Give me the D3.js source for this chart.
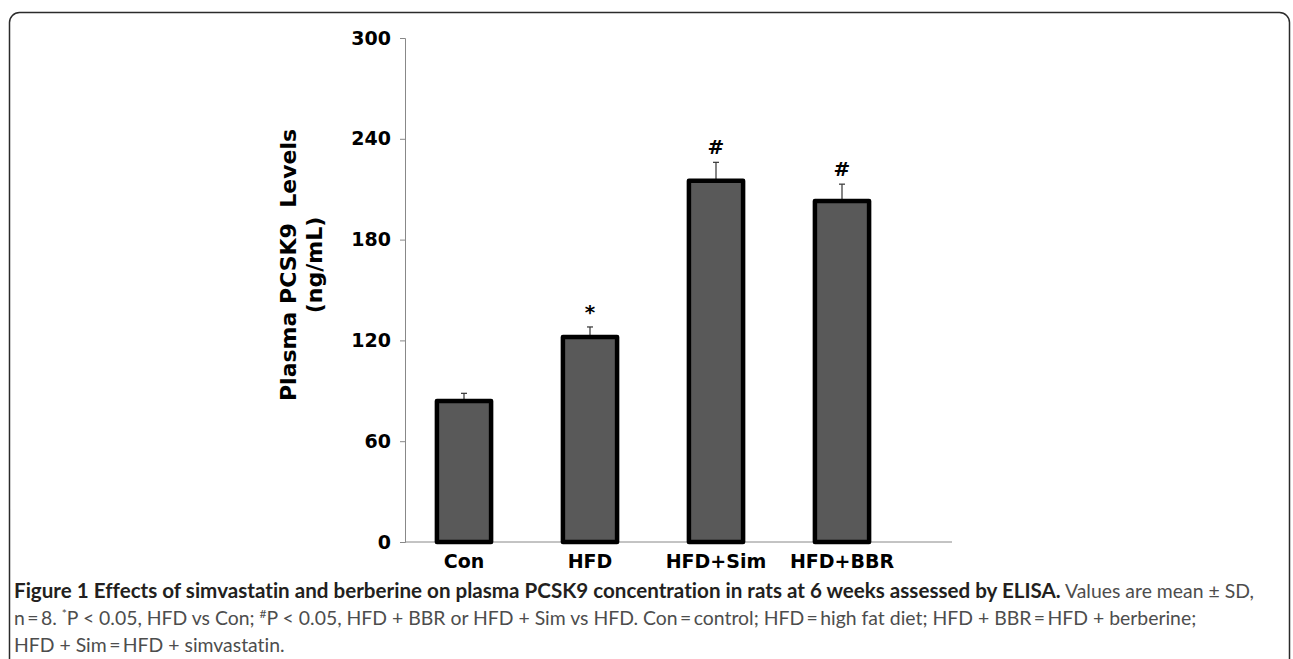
<!DOCTYPE html>
<html>
<head>
<meta charset="utf-8">
<script src="https://cdn.jsdelivr.net/npm/d3@7"></script>
<style>
  body { margin: 0; background: #fff; }
  svg { display: block; }
  text { font-variant-ligatures: none; }
</style>
</head>
<body>
<script>
var groups = ['Con', 'HFD', 'HFD+Sim', 'HFD+BBR'];
var means = [84, 122, 215, 203];
var sds = [4.5, 6, 11, 10];
var marks = ['', '*', '#', '#'];
var yTicks = [0, 60, 120, 180, 240, 300];

var width = 1293, height = 659;
var svg = d3.select('body').append('svg')
  .attr('width', width)
  .attr('height', height);

// panel border, open at the bottom
svg.append('rect')
  .attr('x', 9.5).attr('y', 12.5)
  .attr('width', 1280).attr('height', 700)
  .attr('rx', 10).attr('ry', 10)
  .attr('fill', 'none')
  .attr('stroke', '#2b2b2b')
  .attr('stroke-width', 1.5);

var y = d3.scaleLinear().domain([0, 300]).range([542, 38]);
var x = d3.scaleBand().domain(groups).range([401, 905]).paddingInner(0.57).paddingOuter(0.285);

var yAxis = d3.axisLeft(y).tickValues(yTicks).tickSize(5).tickPadding(9);
var gy = svg.append('g')
  .attr('transform', 'translate(405,0)')
  .call(yAxis);
gy.select('.domain').attr('stroke', '#888');
gy.selectAll('.tick line').attr('stroke', '#888');
gy.selectAll('.tick text')
  .attr('fill', '#000')
  .style('font-family', 'DejaVu Sans')
  .style('font-weight', 'bold')
  .style('font-size', '19px');

// x axis line (extends past the last bar, excel style)
svg.append('line')
  .attr('x1', 405).attr('x2', 952)
  .attr('y1', y(0)).attr('y2', y(0))
  .attr('stroke', '#888');

svg.selectAll('.cat')
  .data(groups)
  .enter().append('text')
  .attr('class', 'cat')
  .attr('x', function(d) { return x(d) + x.bandwidth() / 2; })
  .attr('y', 568)
  .attr('text-anchor', 'middle')
  .style('font-family', 'DejaVu Sans')
  .style('font-weight', 'bold')
  .style('font-size', '19px')
  .text(function(d) { return d; });

// error bars (upper half only visible)
var eb = svg.selectAll('.eb')
  .data(groups)
  .enter().append('g')
  .attr('class', 'eb');
eb.append('line')
  .attr('x1', function(d) { return x(d) + x.bandwidth() / 2; })
  .attr('x2', function(d) { return x(d) + x.bandwidth() / 2; })
  .attr('y1', function(d, i) { return y(means[i]); })
  .attr('y2', function(d, i) { return y(means[i] + sds[i]); })
  .attr('stroke', '#333').attr('stroke-width', 1.2);
eb.append('line')
  .attr('x1', function(d) { return x(d) + x.bandwidth() / 2 - 3; })
  .attr('x2', function(d) { return x(d) + x.bandwidth() / 2 + 3; })
  .attr('y1', function(d, i) { return y(means[i] + sds[i]); })
  .attr('y2', function(d, i) { return y(means[i] + sds[i]); })
  .attr('stroke', '#333').attr('stroke-width', 1.2);

svg.selectAll('.bar')
  .data(groups)
  .enter().append('rect')
  .attr('class', 'bar')
  .attr('x', function(d) { return x(d); })
  .attr('y', function(d, i) { return y(means[i]); })
  .attr('width', x.bandwidth())
  .attr('height', function(d, i) { return y(0) - y(means[i]); })
  .attr('fill', '#595959')
  .attr('stroke', '#000')
  .attr('stroke-width', 4.5)
  .attr('stroke-linejoin', 'round');

svg.selectAll('.mark')
  .data(groups)
  .enter().append('text')
  .attr('class', 'mark')
  .attr('x', function(d) { return x(d) + x.bandwidth() / 2; })
  .attr('y', function(d, i) { return y(means[i] + sds[i]) - 8; })
  .attr('text-anchor', 'middle')
  .style('font-family', 'DejaVu Sans')
  .style('font-weight', 'bold')
  .style('font-size', '20px')
  .text(function(d, i) { return marks[i]; });

// y axis title
var yt = svg.append('text')
  .attr('transform', 'translate(300,265) rotate(-90)')
  .attr('text-anchor', 'middle')
  .style('font-family', 'DejaVu Sans')
  .style('font-weight', 'bold')
  .style('font-size', '22px');
yt.append('tspan').attr('x', 0).attr('dy', '-0.2em').attr('xml:space', 'preserve').text('Plasma PCSK9  Levels');
yt.append('tspan').attr('x', 0).attr('dy', '1.2em').text('(ng/mL)');

// caption
var cap = svg.append('g')
  .style('font-family', 'Lato')
  .style('font-size', '19.4px');
var l1 = cap.append('text').attr('x', 14).attr('y', 598);
l1.append('tspan').attr('font-weight', 'bold').attr('fill', '#231f20').style('font-size', '20.6px')
  .text('Figure 1 Effects of simvastatin and berberine on plasma PCSK9 concentration in rats at 6 weeks assessed by ELISA.');
l1.append('tspan').attr('fill', '#4d4d4d').text(' Values are mean \u00b1 SD,');

var l2 = cap.append('text').attr('x', 14).attr('y', 625).attr('fill', '#4d4d4d');
l2.append('tspan').text('n\u2009=\u20098. ');
l2.append('tspan').attr('dy', -7).style('font-size', '12px').text('*');
l2.append('tspan').attr('dy', 7).text('P < 0.05, HFD vs Con; ');
l2.append('tspan').attr('dy', -7).style('font-size', '12px').text('#');
l2.append('tspan').attr('dy', 7).text('P < 0.05, HFD + BBR or HFD + Sim vs HFD. Con\u2009=\u2009control; HFD\u2009=\u2009high fat diet; HFD + BBR\u2009=\u2009HFD + berberine;');

cap.append('text').attr('x', 14).attr('y', 652).attr('fill', '#4d4d4d')
  .text('HFD + Sim\u2009=\u2009HFD + simvastatin.');
</script>
</body>
</html>
